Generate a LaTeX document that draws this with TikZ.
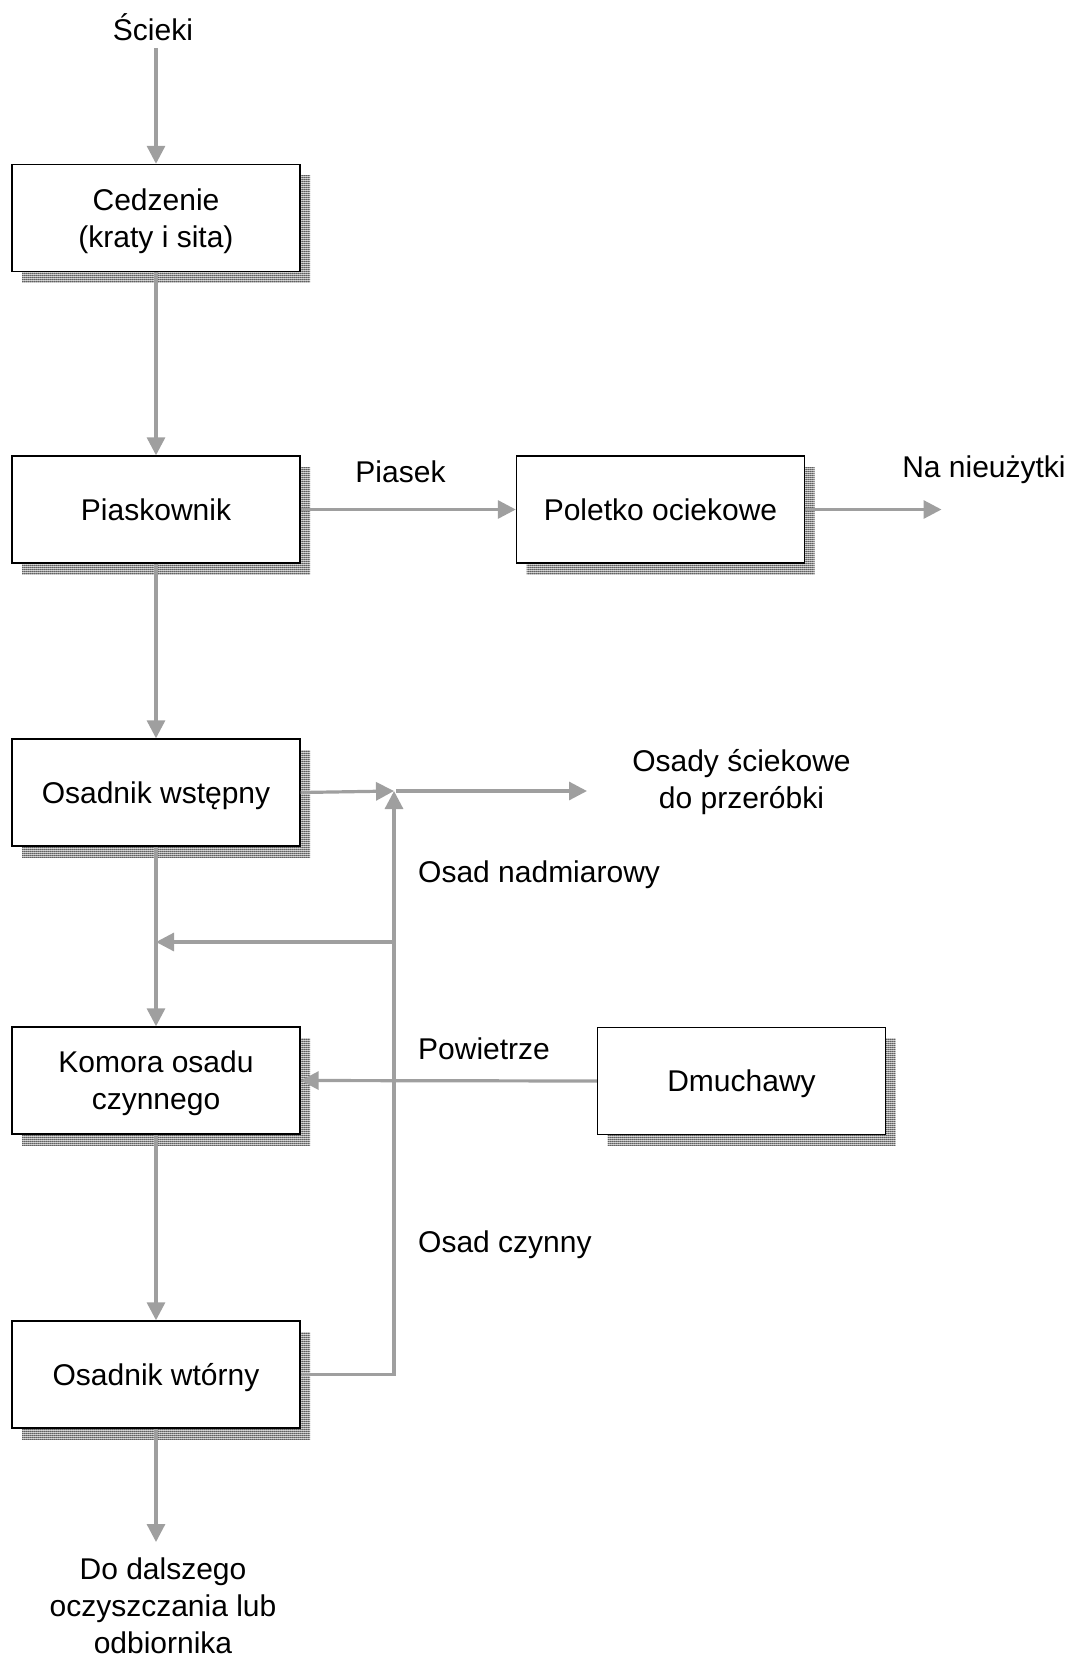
\documentclass[tikz,border=0pt]{standalone}
\usepackage{fontspec}
\setmainfont{Liberation Sans}
\usetikzlibrary{arrows.meta,shadows,patterns}

% fine square mesh on a grey ground, used for the box shadows
\pgfdeclarepatterninherentlycolored{shadowmesh}{\pgfpointorigin}{\pgfpoint{2pt}{2pt}}{\pgfpoint{2pt}{2pt}}{%
  \pgfsetfillcolor{black!30}%
  \pgfpathrectangle{\pgfpointorigin}{\pgfpoint{2pt}{2pt}}%
  \pgfusepath{fill}%
  \pgfsetstrokecolor{black!65}%
  \pgfsetlinewidth{0.9pt}%
  \pgfpathmoveto{\pgfpoint{0pt}{0.5pt}}\pgfpathlineto{\pgfpoint{2pt}{0.5pt}}%
  \pgfpathmoveto{\pgfpoint{0.5pt}{0pt}}\pgfpathlineto{\pgfpoint{0.5pt}{2pt}}%
  \pgfusepath{stroke}}

\newcommand{\uplift}{\rule{0pt}{28pt}}

\begin{document}
\begin{tikzpicture}[x=1pt,y=-1pt,
  every node/.style={font=\fontsize{30}{37}\selectfont},
  stage/.style={draw=black, line width=1.4pt, fill=white,
    minimum width=288pt, minimum height=107pt, align=center, inner sep=0pt,
    drop shadow={shadow xshift=10pt, shadow yshift=-11pt,
      pattern=shadowmesh, opacity=1}},
  oneline/.style={text depth=0pt},
  flow/.style={draw=gray!75, line width=3.2pt, -{Triangle[length=18pt,width=18pt]}},
  caption/.style={inner sep=0pt, align=center},
]
\useasboundingbox (0,0) rectangle (1071,1658);

% process stages
\node[stage] (ced) at (156,218) {\uplift Cedzenie\\(kraty i sita)};
\node[stage] (pia) at (156,509.5) {Piaskownik};
\node[stage, oneline] (osw) at (156,792.5) {Osadnik wstępny};
\node[stage] (kom) at (156,1080.5) {\uplift Komora osadu\\czynnego};
\node[stage, oneline] (owt) at (156,1374.5) {Osadnik wtórny};
\node[stage] (pol) at (660.5,509.5) {Poletko ociekowe};
\node[stage, oneline] (dmu) at (741.5,1081) {Dmuchawy};

% free captions
\node[caption, anchor=base] (sci) at (153,40) {Ścieki};
\node[caption, anchor=base] (pias) at (400.5,482.5) {Piasek};
\node[caption, anchor=base] (nieu) at (984,477) {Na nieużytki};
\node[caption] (osady) at (741.5,782) {Osady ściekowe\\do przeróbki};
\node[caption, anchor=base west] (nadm) at (418,882) {Osad nadmiarowy};
\node[caption, anchor=base west] (powi) at (418,1059) {Powietrze};
\node[caption, anchor=base west] (czyn) at (418,1252) {Osad czynny};
\node[caption] (dalej) at (163,1606) {Do dalszego\\oczyszczania lub\\odbiornika};

% junction points and free ends
\coordinate (J) at (394,791);
\coordinate (B) at (394,942);
\coordinate (toOsady) at (587,791);
\coordinate (toNieu) at (941.5,509.5);
\coordinate (toOut) at (156,1542);

% main line
\draw[flow] (ced.north |- 0,48) -- (ced.north);
\draw[flow] (ced) -- (pia);
\draw[flow] (pia) -- (osw);
\draw[flow] (osw) -- (kom);
\draw[flow] (kom) -- (owt);
\draw[flow] (owt.south) -- (toOut);

% sand branch
\draw[flow] (pia.east) -- (pol.west);
\draw[flow] (pol.east) -- (toNieu);

% sludge lines
\draw[flow] (osw.east) -- (J);
\draw[flow] (J) ++(2,0) -- (toOsady);
\draw[flow] (owt.east) -| (J);
\draw[flow] (B) -- (B -| osw.south);

% air supply
\draw[flow] (dmu.west) -- (kom.east);
\end{tikzpicture}
\end{document}
